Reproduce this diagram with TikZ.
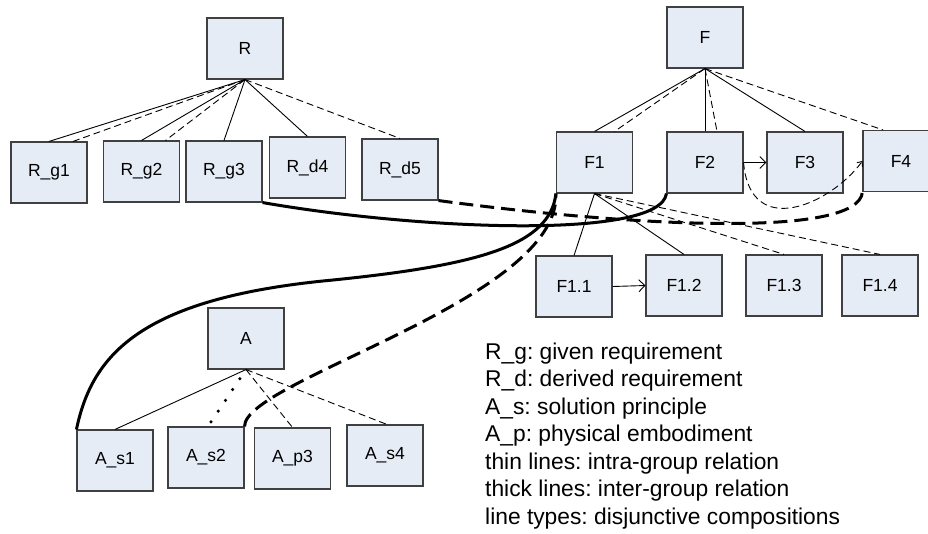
\documentclass[tikz,border=0pt]{standalone}
\usepackage{fontspec}
\setmainfont{Liberation Sans}
\frenchspacing
\usetikzlibrary{arrows.meta}
\definecolor{boxfill}{RGB}{230,236,246}
\definecolor{boxline}{RGB}{64,64,64}
\tikzset{
  item/.style={draw=boxline, line width=1.1pt, fill=boxfill, minimum width=76pt,
    minimum height=61pt, inner sep=0pt, font=\fontsize{17.5}{20}\selectfont},
  thin/.style={line width=0.9pt},
  thindash/.style={line width=0.9pt, dash pattern=on 7pt off 4pt},
  thick/.style={line width=3pt},
  thickdash/.style={line width=3pt, dash pattern=on 14pt off 7pt},
  dotline/.style={line width=3.5pt, line cap=round, dash pattern=on 0pt off 13pt},
  barb/.style={-{Straight Barb[length=6pt,width=12pt]}},
  legend/.style={anchor=base west, inner sep=0pt, font=\fontsize{22.8}{27}\selectfont}
}
\begin{document}
\begin{tikzpicture}[x=1pt, y=-1pt]
\useasboundingbox (0,0) rectangle (928,533);
\clip (0,0) rectangle (928,533);

% requirement tree
\node[item] (R)   at (245,48.5)  {R};
\node[item] (Rg1) at (49,172.5)  {R\_g1};
\node[item] (Rg2) at (141.5,171.5) {R\_g2};
\node[item] (Rg3) at (224,171.5) {R\_g3};
\node[item] (Rd4) at (307.5,167.5) {R\_d4};
\node[item] (Rd5) at (400,169.5) {R\_d5};

% function tree
\node[item] (F)   at (705,37.5)  {F};
\node[item] (F1)  at (594.5,162.5) {F1};
\node[item] (F2)  at (705,162.5) {F2};
\node[item] (F3)  at (805,162.5) {F3};
\node[item] (F4)  at (901,161)   {F4};
\node[item] (F11) at (574,286.5) {F1.1};
\node[item] (F12) at (684,285.5) {F1.2};
\node[item] (F13) at (784,285.5) {F1.3};
\node[item] (F14) at (880,285.5) {F1.4};

% solution tree
\node[item] (A)   at (246,338.5) {A};
\node[item] (As1) at (115,460.5) {A\_s1};
\node[item] (As2) at (206,457.5) {A\_s2};
\node[item] (Ap3) at (292.5,458.5) {A\_p3};
\node[item] (As4) at (385,455.5) {A\_s4};

% intra-group relations of R
\draw[thin]     (R.south) -- (Rg1.north);
\draw[thindash] (R.south) -- ([xshift=24pt]Rg1.north);
\draw[thin]     (R.south) -- (Rg2.north);
\draw[thindash] (R.south) -- ([xshift=24pt]Rg2.north);
\draw[thin]     (R.south) -- (Rg3.north);
\draw[thin]     (R.south) -- (Rd4.north);
\draw[thindash] (R.south) -- (Rd5.north);

% intra-group relations of F
\draw[thin]     (F.south) -- (F1.north);
\draw[thindash] (F.south) -- ([xshift=20pt]F1.north);
\draw[thin]     (F.south) -- (F2.north);
\draw[thindash] (F.south) -- ([xshift=12pt]F2.north);
\draw[thin]     (F.south) -- (F3.north);
\draw[thindash] (F.south) -- ([xshift=-18pt]F4.north);
\draw[thin]     (F1.south) -- (F11.north);
\draw[thin]     (F1.south) -- (F12.north);
\draw[thindash] (F1.south) -- (F13.north);
\draw[thindash] (F1.south) -- (F14.north);
\draw[thin, barb] (F2.east) -- (F3.west);
\draw[thindash, -{Straight Barb[length=4pt,width=7pt]}]
  (F2.east) .. controls (750,240) and (830,205) .. (F4.west);
\draw[thin, barb] (F11.east) -- (F12.west);

% intra-group relations of A
\draw[thin]     (A.south) -- (As1.north);
\draw[dotline, shorten <=11pt] (A.south) -- ([xshift=2pt]As2.north);
\draw[thindash] (A.south) -- (Ap3.north);
\draw[thindash] (A.south) -- ([xshift=2pt]As4.north);

% inter-group relations
\coordinate (mid) at (333,280);
\draw[thick] (Rg3.south east) .. controls (420,230) and (660,240) .. (F2.south west);
\draw[thickdash] (Rd5.south east) .. controls (620,225) and (858,240) .. (F4.south west);
\draw[thick] (As1.north west) .. controls (92,355) and (140,298) .. (mid)
  .. controls (480,265) and (550,245) .. (F1.south west);
\draw[thickdash] (As2.north east) .. controls (244,380) and (560,300) .. (F1.south west);

% legend
\foreach \t [count=\i from 0] in {R\_g: given requirement, R\_d: derived requirement,
  A\_s: solution principle, A\_p: physical embodiment, thin lines: intra-group relation,
  thick lines: inter-group relation, line types: disjunctive compositions}
  \node[legend] (leg\i) at (485,359+27.5*\i) {\t};
\end{tikzpicture}
\end{document}
